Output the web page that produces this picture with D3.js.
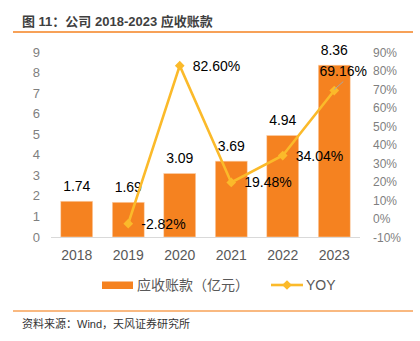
<!DOCTYPE html>
<html>
<head>
<meta charset="utf-8">
<script src="https://cdn.jsdelivr.net/npm/d3@7"></script>
<style>
    body { margin: 0; background: #fff; }
    svg { display: block; font-family: "Liberation Sans", Arial, "Noto Sans CJK SC", sans-serif; }
</style>
</head>
<body>
<div id="chart"></div>
<script>

// data
const years = ["2018", "2019", "2020", "2021", "2022", "2023"];
const receivables = [1.74, 1.69, 3.09, 3.69, 4.94, 8.36];   // 应收账款（亿元）
const yoy = [null, -2.82, 82.60, 19.48, 34.04, 69.16];       // YOY, %
const leftTicks = [0, 1, 2, 3, 4, 5, 6, 7, 8, 9];
const rightTicks = [-10, 0, 10, 20, 30, 40, 50, 60, 70, 80, 90];

const barColor = "#F58220";
const lineColor = "#FBBA2A";
const axisText = "#7F7F7F";

const svg = d3.select("#chart")
    .append("svg")
    .attr("width", 420)
    .attr("height", 341);

// scales
const x = d3.scaleBand()
    .domain(years)
    .range([51, 360])
    .paddingInner(0.38)
    .paddingOuter(0.19);

const yLeft = d3.scaleLinear().domain([0, 9]).range([237, 52]);
const yRight = d3.scaleLinear().domain([-10, 90]).range([237, 52]);

// title + rules
svg.append("text")
    .attr("x", 22)
    .attr("y", 26)
    .style("font-family", "'Liberation Sans', 'Noto Sans CJK SC', sans-serif")
    .style("font-size", "13px")
    .style("font-weight", "bold")
    .attr("fill", "#3F3F3F")
    .text("图 11：公司 2018-2023 应收账款");

svg.append("line")
    .attr("x1", 13).attr("x2", 413)
    .attr("y1", 32).attr("y2", 32)
    .attr("stroke", "#F58220")
    .attr("stroke-width", 1.5);

svg.append("line")
    .attr("x1", 13).attr("x2", 413)
    .attr("y1", 311).attr("y2", 311)
    .attr("stroke", "#F7A257")
    .attr("stroke-width", 1.5);

svg.append("text")
    .attr("x", 22)
    .attr("y", 328)
    .style("font-family", "'Liberation Sans', 'Noto Sans CJK SC', sans-serif")
    .style("font-size", "11px")
    .attr("fill", "#333")
    .text("资料来源：Wind，天风证券研究所");

// axes (tick labels only, no domain except baseline)
svg.selectAll(".ltick")
    .data(leftTicks)
    .enter()
    .append("text")
    .attr("x", 40)
    .attr("y", (d) => yLeft(d) + 4.5)
    .attr("text-anchor", "end")
    .style("font-size", "13px")
    .attr("fill", axisText)
    .text((d) => d);

svg.selectAll(".rtick")
    .data(rightTicks)
    .enter()
    .append("text")
    .attr("x", 373)
    .attr("y", (d) => yRight(d) + 4.5)
    .style("font-size", "12px")
    .attr("fill", axisText)
    .text((d) => d + "%");

svg.selectAll(".xtick")
    .data(years)
    .enter()
    .append("text")
    .attr("x", (d) => x(d) + x.bandwidth() / 2)
    .attr("y", 260)
    .attr("text-anchor", "middle")
    .style("font-size", "14px")
    .attr("fill", "#595959")
    .text((d) => d);

// bars
svg.selectAll(".bar")
    .data(receivables)
    .enter()
    .append("rect")
    .attr("x", (d, i) => x(years[i]))
    .attr("y", (d) => yLeft(d))
    .attr("width", x.bandwidth())
    .attr("height", (d) => yLeft(0) - yLeft(d))
    .attr("fill", barColor)
    .attr("stroke", "#FBD3B0")
    .attr("stroke-width", 0.6);

svg.append("line")
    .attr("x1", 51).attr("x2", 360)
    .attr("y1", 237.5).attr("y2", 237.5)
    .attr("stroke", "#D9D9D9")
    .attr("stroke-width", 1.2);

svg.selectAll(".barlabel")
    .data(receivables)
    .enter()
    .append("text")
    .attr("x", (d, i) => x(years[i]) + x.bandwidth() / 2)
    .attr("y", (d) => yLeft(d) - 10.5)
    .attr("text-anchor", "middle")
    .style("font-size", "14px")
    .attr("fill", "#000")
    .text((d) => d.toFixed(2));

// YOY line
const pts = yoy.map((v, i) => ({ x: x(years[i]) + x.bandwidth() / 2, v: v }))
    .filter((d) => d.v !== null);

const line = d3.line()
    .x((d) => d.x)
    .y((d) => yRight(d.v));

svg.append("path")
    .attr("d", line(pts))
    .attr("fill", "none")
    .attr("stroke", lineColor)
    .attr("stroke-width", 2.6);

const diamond = d3.symbol().type(d3.symbolDiamond2).size(60);

svg.selectAll(".marker")
    .data(pts)
    .enter()
    .append("path")
    .attr("d", diamond)
    .attr("transform", (d) => "translate(" + d.x + "," + yRight(d.v) + ")")
    .attr("fill", lineColor);

// leader line for last label
const last = pts[pts.length - 1];
svg.append("line")
    .attr("x1", last.x).attr("y1", yRight(last.v) - 1)
    .attr("x2", last.x + 9).attr("y2", yRight(last.v) - 9)
    .attr("stroke", "#A6A6A6")
    .attr("stroke-width", 1);

svg.selectAll(".yoylabel")
    .data(pts)
    .enter()
    .append("text")
    .attr("x", (d, i) => i === pts.length - 1 ? d.x + 9 : d.x + 13)
    .attr("y", (d, i) => i === pts.length - 1 ? yRight(d.v) - 15 : yRight(d.v) + 5)
    .attr("text-anchor", (d, i) => i === pts.length - 1 ? "middle" : "start")
    .style("font-size", "14px")
    .attr("fill", "#000")
    .text((d) => d.v.toFixed(2) + "%");

// legend
const lg = svg.append("g");
lg.append("rect")
    .attr("x", 102).attr("y", 281.5)
    .attr("width", 31).attr("height", 7.5)
    .attr("fill", barColor);
lg.append("text")
    .attr("x", 137).attr("y", 290)
    .style("font-family", "'Noto Sans CJK SC', sans-serif")
    .style("font-size", "14px")
    .attr("fill", "#595959")
    .text("应收账款（亿元）");
lg.append("line")
    .attr("x1", 271).attr("x2", 303)
    .attr("y1", 285).attr("y2", 285)
    .attr("stroke", lineColor)
    .attr("stroke-width", 2.6);
lg.append("path")
    .attr("d", diamond)
    .attr("transform", "translate(287,285)")
    .attr("fill", lineColor);
lg.append("text")
    .attr("x", 306).attr("y", 290)
    .style("font-size", "14px")
    .attr("fill", "#595959")
    .text("YOY");

</script>
</body>
</html>
